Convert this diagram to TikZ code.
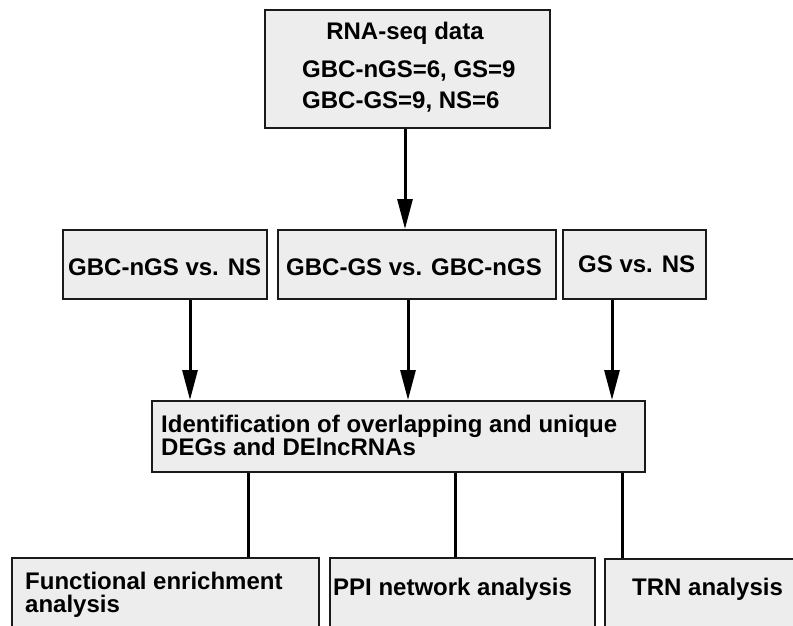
\documentclass[tikz,border=0pt]{standalone}
\usepackage{fontspec}
\setmainfont{Liberation Sans}
\usetikzlibrary{arrows.meta}
\definecolor{boxfill}{HTML}{EDEDED}
\definecolor{edgecol}{HTML}{1A1A1A}
\tikzset{
  box/.style={draw=edgecol, fill=boxfill, line width=2pt, inner sep=0pt},
  lbl/.style={inner sep=0pt, font=\fontsize{24}{24}\selectfont\bfseries, text=black},
  arr/.style={line width=3pt, draw=black, -{Triangle[length=30pt,width=15pt]}},
  conn/.style={line width=3pt, draw=black},
}
\begin{document}
\begin{tikzpicture}[x=1pt,y=-1pt]
\useasboundingbox (0,0) rectangle (793,625);
% boxes
\node[box, minimum width=285pt, minimum height=118pt] (rna) at (407.5,69) {};
\node[box, minimum width=204pt, minimum height=69pt] (m1) at (165,264.5) {};
\node[box, minimum width=278pt, minimum height=69pt] (m2) at (417,264.5) {};
\node[box, minimum width=143pt, minimum height=69pt] (m3) at (634.5,264.5) {};
\node[box, minimum width=493pt, minimum height=71pt] (ident) at (398.5,436.5) {};
\node[box, minimum width=307pt, minimum height=82pt] (fa) at (165.5,599) {};
\node[box, minimum width=265pt, minimum height=82pt] (ppi) at (462.5,599) {};
\node[box, minimum width=205pt, minimum height=81pt] (trn) at (707.5,599.5) {};
% texts
\node[lbl, anchor=base] (t1) at (405,39) {RNA-seq data};
\node[lbl, anchor=base west] (t2) at (302,77) {GBC-nGS=6, GS=9};
\node[lbl, anchor=base west] (t3) at (302,108) {GBC-GS=9, NS=6};
\node[lbl, anchor=base west] (t4) at (68,275) {GBC-nGS vs. NS};
\node[lbl, anchor=base west] (t5) at (286,275) {GBC-GS vs. GBC-nGS};
\node[lbl, anchor=base west] (t6) at (578,272) {GS vs. NS};
\node[lbl, anchor=base west] (t7) at (161,432) {Identification of overlapping and unique};
\node[lbl, anchor=base west] (t8) at (161,455) {DEGs and DElncRNAs};
\node[lbl, anchor=base west] (t9) at (25,589) {Functional enrichment};
\node[lbl, anchor=base west] (t10) at (25,612) {analysis};
\node[lbl, anchor=base west] (t11) at (333,595) {PPI network analysis};
\node[lbl, anchor=base west] (t12) at (632,595) {TRN analysis};
% connectors
\draw[arr] ([xshift=-2.5pt]rna.south) -- ([xshift=-2.5pt]rna.south |- m2.north);
\draw[arr] ([xshift=25pt]m1.south) -- ([xshift=25pt]m1.south |- ident.north);
\draw[arr] ([xshift=-9pt]m2.south) -- ([xshift=-9pt]m2.south |- ident.north);
\draw[arr] ([xshift=-22.5pt]m3.south) -- ([xshift=-22.5pt]m3.south |- ident.north);
\draw[conn] ([xshift=97pt]ident.south west) -- ([xshift=97pt]ident.south west |- fa.north);
\draw[conn] ([xshift=304pt]ident.south west) -- ([xshift=304pt]ident.south west |- ppi.north);
\draw[conn] ([xshift=471pt]ident.south west) -- ([xshift=471pt]ident.south west |- trn.north);
\end{tikzpicture}
\end{document}
